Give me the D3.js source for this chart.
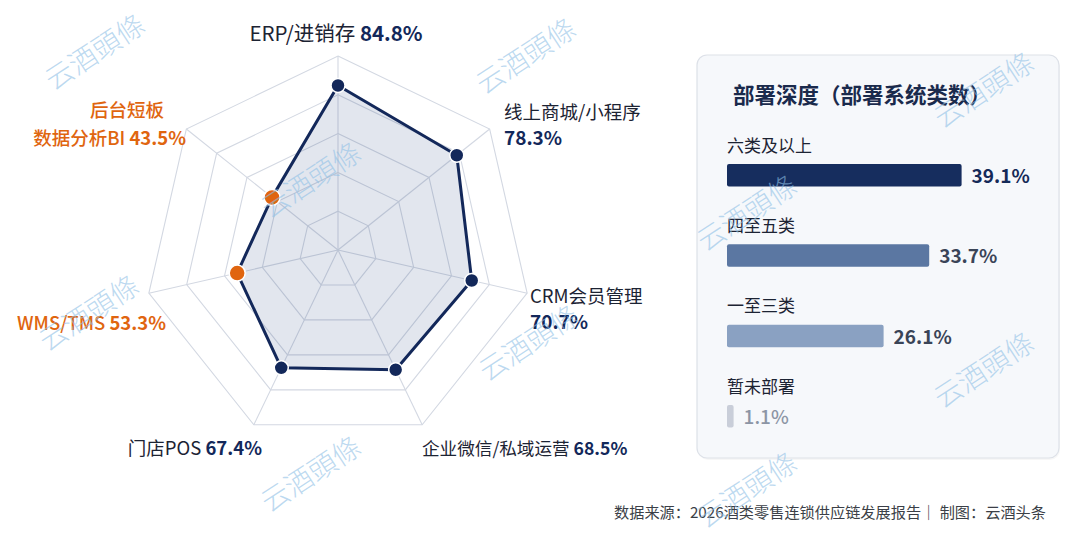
<!DOCTYPE html>
<html>
<head>
<meta charset="utf-8">
<script src="https://cdn.jsdelivr.net/npm/d3@7/dist/d3.min.js"></script>
<style>
  html, body { margin: 0; padding: 0; background: #ffffff; }
  svg { display: block; }
  text { font-family: "Noto Sans CJK SC", "Noto Sans", sans-serif; }
</style>
</head>
<body>
<svg id="chart" width="1080" height="540"></svg>
<script>
// ---------- data ----------
const radarNames  = ["ERP/进销存", "线上商城/小程序", "CRM会员管理", "企业微信/私域运营", "门店POS", "WMS/TMS", "数据分析BI"];
const radarValues = [84.8, 78.3, 70.7, 68.5, 67.4, 53.3, 43.5];
const radarWeak   = [false, false, false, false, false, true, true];
const weakPrefix  = "后台短板";
const ringTicks   = [20, 40, 60, 80, 100];

const depthCats   = ["六类及以上", "四至五类", "一至三类", "暂未部署"];
const depthValues = [39.1, 33.7, 26.1, 1.1];
const panelTitle  = "部署深度（部署系统类数）";
const sourceText  = "数据来源：2026酒类零售连锁供应链发展报告｜ 制图：云酒头条";
const watermark   = "云酒頭條";

// ---------- setup ----------
const svg = d3.select("#chart");
const NAVY = "#13285a", ORANGE = "#e0650f", DARK = "#1c2333";

const wmPos = [[96,54],[527,58],[312,182],[748,215],[985,92],[90,315],[530,345],[985,372],[312,476],[748,492]];

// ---------- radar ----------
const cx = 338, cy = 250, R = 194;
const n = radarNames.length;
const ang = d3.scaleLinear().domain([0, n]).range([0, 2 * Math.PI]);
const rad = d3.scaleLinear().domain([0, 100]).range([0, R]);
const pt = (i, v) => [cx + rad(v) * Math.sin(ang(i)), cy - rad(v) * Math.cos(ang(i))];

const rg = svg.append("g");
const lineClosed = d3.line().curve(d3.curveLinearClosed);

rg.selectAll("path.ring").data(ringTicks).join("path")
  .attr("class", "ring")
  .attr("d", t => lineClosed(d3.range(n).map(i => pt(i, t))))
  .attr("fill", "none").attr("stroke", "#d3d8e2").attr("stroke-width", 1.1);

rg.selectAll("line.spoke").data(d3.range(n)).join("line")
  .attr("class", "spoke")
  .attr("x1", cx).attr("y1", cy)
  .attr("x2", i => pt(i, 100)[0]).attr("y2", i => pt(i, 100)[1])
  .attr("stroke", "#d3d8e2").attr("stroke-width", 1.1);

const pts = radarValues.map((v, i) => pt(i, v));
rg.append("path")
  .attr("d", lineClosed(pts))
  .attr("fill", "#21407f").attr("fill-opacity", 0.13)
  .attr("stroke", NAVY).attr("stroke-width", 3).attr("stroke-linejoin", "round");

rg.selectAll("circle.dot").data(radarValues).join("circle")
  .attr("class", "dot")
  .attr("cx", (v, i) => pt(i, v)[0]).attr("cy", (v, i) => pt(i, v)[1])
  .attr("r", (v, i) => radarWeak[i] ? 8 : 7)
  .attr("fill", (v, i) => radarWeak[i] ? ORANGE : NAVY)
  .attr("stroke", "#ffffff").attr("stroke-width", 1.5);

// labels layout
const labLayout = [
  {x: 336, y: 41, a: "middle", two: false, fs: 20.5},
  {x: 504, y: 119, a: "start", two: true, fs: 18.5},
  {x: 530, y: 303, a: "start", two: true, fs: 18.5},
  {x: 422, y: 455, a: "start", two: false, fs: 17.6},
  {x: 262, y: 455, a: "end", two: false, fs: 18.5},
  {x: 166, y: 330, a: "end", two: false, fs: 18.5},
  {x: 186, y: 145, a: "end", two: false, fs: 18.5, pre: true}
];
radarNames.forEach((name, i) => {
  const L = labLayout[i];
  const weak = radarWeak[i];
  const nameColor = weak ? ORANGE : DARK;
  const valColor = weak ? ORANGE : NAVY;
  const valStr = d3.format(".1f")(radarValues[i]) + "%";
  if (L.two) {
    rg.append("text").attr("x", L.x).attr("y", L.y).attr("text-anchor", L.a)
      .attr("font-size", L.fs).attr("fill", nameColor).text(name);
    rg.append("text").attr("x", L.x).attr("y", L.y + 26).attr("text-anchor", L.a)
      .attr("font-size", L.fs + 0.5).attr("font-weight", 700).attr("fill", valColor).text(valStr);
  } else {
    const t = rg.append("text").attr("x", L.x).attr("y", L.y).attr("text-anchor", L.a)
      .attr("font-size", L.fs);
    t.append("tspan").attr("fill", nameColor).attr("font-weight", weak ? 500 : 400).text(name + " ");
    t.append("tspan").attr("fill", valColor).attr("font-weight", 700).text(valStr);
  }
  if (L.pre) {
    rg.append("text").attr("x", 164).attr("y", 117).attr("text-anchor", "end")
      .attr("font-size", L.fs).attr("font-weight", 500).attr("fill", ORANGE).text(weakPrefix);
  }
});

// ---------- right panel ----------
const px = 697, py = 55, pw = 362, ph = 403;
const pg = svg.append("g");
pg.append("rect").attr("x", px + 1).attr("y", py + 2).attr("width", pw).attr("height", ph)
  .attr("rx", 10).attr("fill", "#000").attr("fill-opacity", 0.03);
pg.append("rect").attr("x", px).attr("y", py).attr("width", pw).attr("height", ph)
  .attr("rx", 10).attr("fill", "#f6f8fb").attr("stroke", "#dde1e8").attr("stroke-width", 1.2);

pg.append("text").attr("x", 733).attr("y", 103).attr("font-size", 21.5).attr("font-weight", 700)
  .attr("fill", "#1a2a4c").text(panelTitle);

const barX = d3.scaleLinear().domain([0, 40]).range([0, 240]);
const barColors = ["#162d5e", "#5b77a2", "#8aa1c2", "#c9ced9"];
const valColors = ["#142a58", "#3a4457", "#3a4457", "#8c95a5"];
const valWeights = [700, 600, 600, 500];
const rowY = d3.scaleLinear().domain([0, 3]).range([164, 405]);
const barH = 22.5, bx = 727;

const rows = pg.selectAll("g.row").data(depthValues).join("g").attr("class", "row");
rows.append("text").attr("x", bx).attr("y", (d, i) => rowY(i) - 12.5)
  .attr("font-size", 17).attr("fill", DARK).text((d, i) => depthCats[i]);
rows.append("rect").attr("x", bx).attr("y", (d, i) => rowY(i))
  .attr("width", d => Math.max(barX(d), 6)).attr("height", barH).attr("rx", 2)
  .attr("fill", (d, i) => barColors[i]);
rows.append("text").attr("x", d => bx + Math.max(barX(d), 6) + 10).attr("y", (d, i) => rowY(i) + 19)
  .attr("font-size", 19).attr("font-weight", (d, i) => valWeights[i])
  .attr("fill", (d, i) => valColors[i]).text(d => d3.format(".1f")(d) + "%");

// ---------- footer ----------
svg.append("text").attr("x", 1046).attr("y", 518).attr("text-anchor", "end")
  .attr("font-size", 15.2).attr("fill", "#3b3f47").text(sourceText);

// watermarks (semi-transparent, on top)
const wm = svg.append("g");
wm.selectAll("text").data(wmPos).join("text")
  .attr("transform", d => `translate(${d[0]},${d[1]}) rotate(-33)`)
  .attr("text-anchor", "middle").attr("dominant-baseline", "middle")
  .attr("font-family", "'Noto Sans CJK TC', 'Noto Sans CJK SC', sans-serif")
  .attr("font-size", 28).attr("font-weight", 300)
  .attr("fill", "#8fc0e6").attr("fill-opacity", 0.6)
  .text(watermark);
</script>
</body>
</html>
